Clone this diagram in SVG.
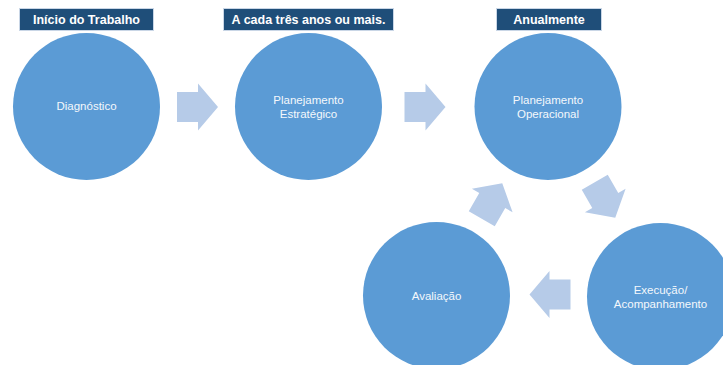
<svg xmlns="http://www.w3.org/2000/svg" width="723" height="365" viewBox="0 0 723 365">
  <defs>
    <style>
      .node { fill: #5B9BD5; }
      .label { fill: #F4F8FC; font-family: "Liberation Sans", Arial, sans-serif; font-size: 11.5px; text-anchor: middle; }
      .hdr-box { fill: #1F4E79; stroke: #C9D6E6; stroke-width: 1; }
      .hdr-text { fill: #FFFFFF; font-family: "Liberation Sans", Arial, sans-serif; font-size: 12.5px; font-weight: bold; text-anchor: middle; }
      .arrow { fill: #B6CBE8; }
    </style>
    <!-- block arrow pointing right, centred on the origin -->
    <polygon id="blockArrow" points="-20.5,-15 0.5,-15 0.5,-23.5 20.5,0 0.5,23.5 0.5,15 -20.5,15"/>
  </defs>

  <rect width="723" height="365" fill="#FFFFFF"/>

  <!-- phase headers -->
  <g id="header-inicio">
    <rect class="hdr-box" x="19.5" y="8.5" width="134" height="22"/>
    <text class="hdr-text" x="86.5" y="24">Início do Trabalho</text>
  </g>
  <g id="header-tres-anos">
    <rect class="hdr-box" x="223.5" y="8.5" width="170" height="22"/>
    <text class="hdr-text" x="308.5" y="24">A cada três anos ou mais.</text>
  </g>
  <g id="header-anual">
    <rect class="hdr-box" x="496.5" y="8.5" width="105" height="22"/>
    <text class="hdr-text" x="549" y="24">Anualmente</text>
  </g>

  <!-- connectors -->
  <g id="connectors">
    <use href="#blockArrow" class="arrow" transform="translate(197.5 107)"/>
    <use href="#blockArrow" class="arrow" transform="translate(425 107)"/>
    <use href="#blockArrow" class="arrow" transform="translate(605 200) rotate(60)"/>
    <use href="#blockArrow" class="arrow" transform="translate(550 294.5) rotate(180)"/>
    <use href="#blockArrow" class="arrow" transform="translate(492 201) rotate(-60)"/>
  </g>

  <!-- nodes -->
  <g id="node-diagnostico">
    <circle class="node" cx="86.5" cy="106.5" r="73.5"/>
    <text class="label" x="86.5" y="110">Diagnóstico</text>
  </g>
  <g id="node-planejamento-estrategico">
    <circle class="node" cx="308.5" cy="106.5" r="73.5"/>
    <text class="label" x="308.5" y="104">Planejamento</text>
    <text class="label" x="308.5" y="117.5">Estratégico</text>
  </g>
  <g id="node-planejamento-operacional">
    <circle class="node" cx="548" cy="106.5" r="73.5"/>
    <text class="label" x="548" y="104">Planejamento</text>
    <text class="label" x="548" y="117.5">Operacional</text>
  </g>
  <g id="node-execucao">
    <circle class="node" cx="660.5" cy="296.5" r="73.5"/>
    <text class="label" x="660.5" y="294">Execução/</text>
    <text class="label" x="660.5" y="307.5">Acompanhamento</text>
  </g>
  <g id="node-avaliacao">
    <circle class="node" cx="436.5" cy="295.5" r="73.5"/>
    <text class="label" x="436.5" y="299.5">Avaliação</text>
  </g>
</svg>
